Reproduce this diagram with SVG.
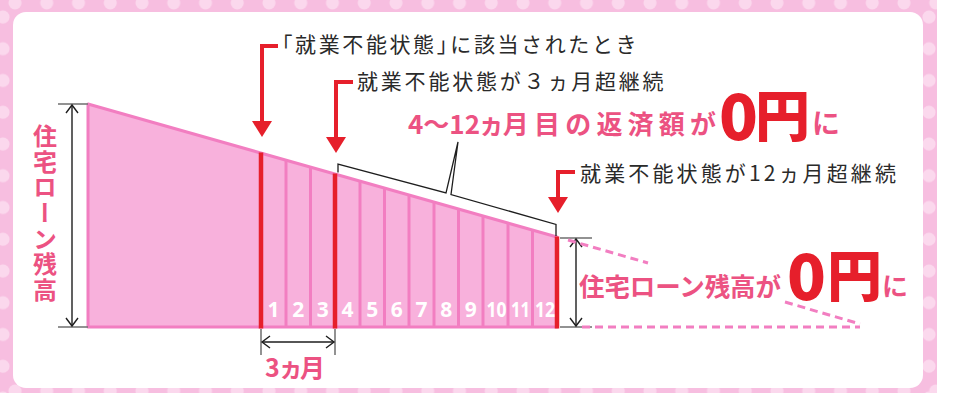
<svg xmlns="http://www.w3.org/2000/svg" width="953" height="393" viewBox="0 0 953 393">
<style>
.jp{font-family:"Noto Sans CJK JP","Noto Sans CJK SC",sans-serif}
.note{font-size:21px;fill:#2a2a2a;font-weight:400}
.rose{fill:#ec5282;font-weight:700}
.red{fill:#e61f2b;font-weight:900}
.palt{font-feature-settings:"palt"}
.num{font-family:"Noto Sans","Open Sans",sans-serif;font-weight:700;font-size:21px;fill:#ffffff;text-anchor:middle}
.div{stroke:#f27ec1;stroke-width:3}
.rbar{stroke:#e61f2b;stroke-width:4.5}
.rarrow{fill:none;stroke:#e61f2b;stroke-width:4}
.dim{fill:none;stroke:#1e1e1e;stroke-width:1.4}
.tick{stroke:#777;stroke-width:1.6}
.dash{fill:none;stroke:#f27ec1;stroke-width:3;stroke-dasharray:8 5}
</style>
<defs>
<pattern id="dotsH" patternUnits="userSpaceOnUse" x="0" y="0" width="31.75" height="393">
<circle cx="15" cy="3" r="6.5" fill="#fbd8ed"/>
<circle cx="15" cy="391" r="6.5" fill="#fbd8ed"/>
</pattern>
<pattern id="dotsV" patternUnits="userSpaceOnUse" x="0" y="0" width="953" height="31.75">
<circle cx="3" cy="17" r="6.5" fill="#fbd8ed"/>
<circle cx="929" cy="17" r="6.5" fill="#fbd8ed"/>
</pattern>
<marker id="redHead" markerUnits="userSpaceOnUse" viewBox="0 0 16 20" refX="4" refY="10" markerWidth="16" markerHeight="20" orient="auto">
<path d="M0,0 L16,10 L0,20 Z" fill="#e61f2b"/>
</marker>
<marker id="openHead" markerUnits="userSpaceOnUse" viewBox="-10 -8 12 16" refX="0" refY="0" markerWidth="12" markerHeight="16" orient="auto-start-reverse">
<path d="M-8,-6 L0,0 L-8,6" fill="none" stroke="#1e1e1e" stroke-width="1.4"/>
</marker>
</defs>

<g id="background">
<rect x="0" y="0" width="953" height="393" fill="#ffffff"/>
<rect x="0" y="0" width="937" height="393" fill="#f7bee0"/>
<rect x="0" y="0" width="937" height="393" fill="url(#dotsH)"/>
<rect x="0" y="0" width="937" height="393" fill="url(#dotsV)"/>
<rect x="13" y="12" width="910" height="376" rx="13" fill="#ffffff"/>
</g>

<g id="loan-balance-chart">
<path d="M88,104 L557,237 L557,327 L88,327 Z" fill="#f8b1dc" stroke="#f27ec1" stroke-width="3" stroke-linejoin="round"/>
<line class="div" x1="286" y1="160.2" x2="286" y2="327"/>
<line class="div" x1="310.5" y1="167.1" x2="310.5" y2="327"/>
<line class="div" x1="360" y1="181.1" x2="360" y2="327"/>
<line class="div" x1="384.5" y1="188.1" x2="384.5" y2="327"/>
<line class="div" x1="409" y1="195" x2="409" y2="327"/>
<line class="div" x1="434" y1="202.1" x2="434" y2="327"/>
<line class="div" x1="458.5" y1="209.1" x2="458.5" y2="327"/>
<line class="div" x1="483" y1="216" x2="483" y2="327"/>
<line class="div" x1="508" y1="223.1" x2="508" y2="327"/>
<line class="div" x1="532.5" y1="230.1" x2="532.5" y2="327"/>
<line class="rbar" x1="261" y1="152.5" x2="261" y2="328.5"/>
<line class="rbar" x1="335" y1="173.5" x2="335" y2="328.5"/>
<line class="rbar" x1="557" y1="236.5" x2="557" y2="328.5"/>
<text class="num" x="273.5" y="317">1</text>
<text class="num" x="298.2" y="317">2</text>
<text class="num" x="322.7" y="317">3</text>
<text class="num" x="347.5" y="317">4</text>
<text class="num" x="372.2" y="317">5</text>
<text class="num" x="396.7" y="317">6</text>
<text class="num" x="421.5" y="317">7</text>
<text class="num" x="446.2" y="317">8</text>
<text class="num" x="470.7" y="317">9</text>
<text class="num" x="496.5" y="317" textLength="20" lengthAdjust="spacingAndGlyphs">10</text>
<text class="num" x="520.5" y="317" textLength="19" lengthAdjust="spacingAndGlyphs">11</text>
<text class="num" x="545" y="317" textLength="20" lengthAdjust="spacingAndGlyphs">12</text>
</g>

<g id="connectors">
<path class="rarrow" d="M278,46 H262 V125" marker-end="url(#redHead)"/>
<path class="rarrow" d="M353,82 H336 V141" marker-end="url(#redHead)"/>
<path class="rarrow" d="M575,172 H558 V201" marker-end="url(#redHead)"/>
<path d="M338,172.5 V164 L446,193 L458,142 L451,194.5 L556,224.5 V236" fill="none" stroke="#1e1e1e" stroke-width="1.3" stroke-linejoin="miter"/>
<line class="tick" x1="58" y1="104" x2="88" y2="104"/>
<line class="tick" x1="58" y1="327" x2="88" y2="327"/>
<line class="dim" x1="72" y1="105" x2="72" y2="326" marker-start="url(#openHead)" marker-end="url(#openHead)"/>
<line class="tick" x1="560" y1="238" x2="592" y2="238"/>
<line class="tick" x1="560" y1="327" x2="592" y2="327"/>
<line class="dim" x1="576" y1="239" x2="576" y2="326" marker-start="url(#openHead)" marker-end="url(#openHead)"/>
<line class="tick" x1="261" y1="329" x2="261" y2="355"/>
<line class="tick" x1="335" y1="329" x2="335" y2="355"/>
<line class="dim" x1="262" y1="342" x2="334" y2="342" marker-start="url(#openHead)" marker-end="url(#openHead)"/>
<line class="dash" x1="568" y1="240" x2="648" y2="263"/>
<line class="dash" x1="785" y1="302" x2="860" y2="324"/>
<line class="dash" x1="582" y1="327" x2="860" y2="327"/>
</g>

<g id="labels">
<text class="jp rose" x="45" y="124" font-size="24" letter-spacing="1.6" style="writing-mode:vertical-rl">住宅ローン残高</text>
<text class="jp note" x="271.5" y="52" letter-spacing="2.6">「就業不能状態」<tspan dx="-10">に該当されたとき</tspan></text>
<text class="jp note" x="357" y="89" letter-spacing="2.8">就業不能状態が３ヵ月超継続</text>
<text class="jp note" x="580" y="181" textLength="316" lengthAdjust="spacing">就業不能状態が12ヵ月超継続</text>
<text class="jp rose" x="408" y="134" font-size="26">4〜12<tspan class="palt" dx="1">ヵ</tspan><tspan dx="1" letter-spacing="5.2">月目の返済額が</tspan></text>
<text class="jp red" x="719" y="140" font-size="64">0</text>
<text class="jp red" x="755" y="136" font-size="55">円</text>
<text class="jp rose" x="812" y="134" font-size="28">に</text>
<text class="jp rose" x="579" y="296" font-size="25.5" textLength="202" lengthAdjust="spacing">住宅ローン残高が</text>
<text class="jp red" x="787" y="300" font-size="64">0</text>
<text class="jp red" x="827" y="296" font-size="55">円</text>
<text class="jp rose" x="882" y="296" font-size="26">に</text>
<text class="jp rose" x="265" y="377" font-size="25">3<tspan class="palt" x="281">ヵ</tspan><tspan x="300">月</tspan></text>
</g>
</svg>
